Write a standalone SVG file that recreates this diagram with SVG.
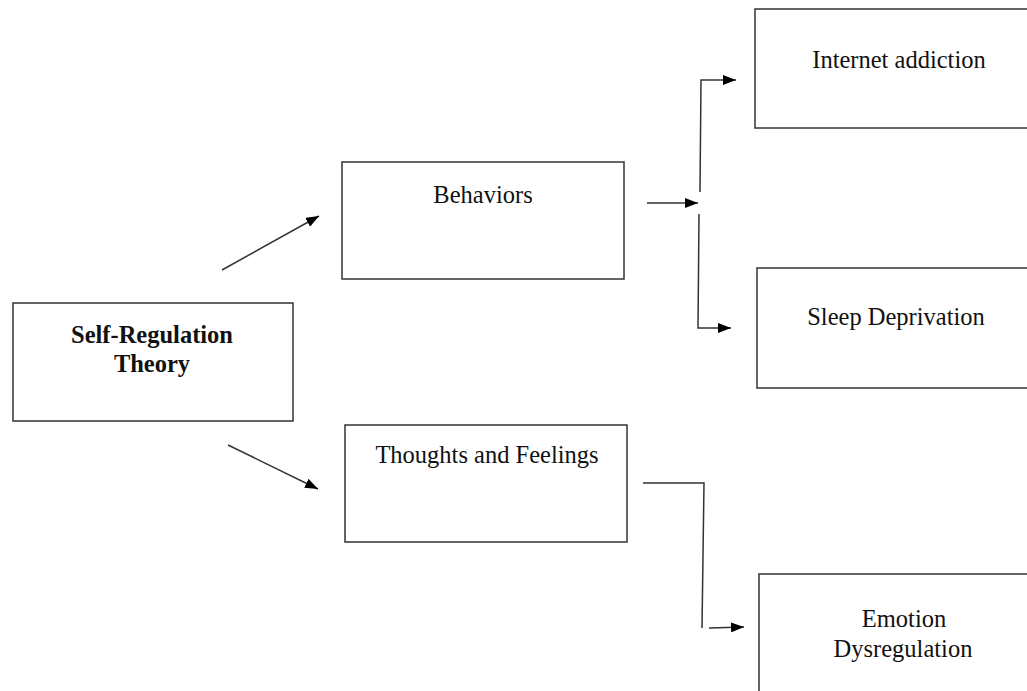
<svg xmlns="http://www.w3.org/2000/svg" width="1027" height="691" viewBox="0 0 1027 691">
<style>
.box{fill:#fff;stroke:#333;stroke-width:1.5}
.t{font-family:"Liberation Serif","Times New Roman",serif;font-size:24.5px;fill:#111;text-anchor:middle}
.b{font-weight:bold}
.c{fill:none;stroke:#333;stroke-width:1.5}
</style>
<defs>
<marker id="ah" viewBox="0 0 13 10" refX="13" refY="5" markerWidth="13" markerHeight="10" markerUnits="userSpaceOnUse" orient="auto">
<path d="M0,0 L13,5 L0,10 z" fill="#000"/>
</marker>
</defs>
<rect width="1027" height="691" fill="#fff"/>
<g id="n-self">
<rect class="box" x="13" y="303" width="280" height="118"/>
<text class="t b" x="152" y="343">Self-Regulation</text>
<text class="t b" x="152" y="372">Theory</text>
</g>
<g id="n-behaviors">
<rect class="box" x="342" y="162" width="282" height="117"/>
<text class="t" x="483" y="203">Behaviors</text>
</g>
<g id="n-thoughts">
<rect class="box" x="345" y="425" width="282" height="117"/>
<text class="t" x="487" y="463">Thoughts and Feelings</text>
</g>
<g id="n-internet">
<rect class="box" x="755" y="9" width="280" height="119"/>
<text class="t" x="899" y="68">Internet addiction</text>
</g>
<g id="n-sleep">
<rect class="box" x="757" y="268" width="280" height="120"/>
<text class="t" x="896" y="325">Sleep Deprivation</text>
</g>
<g id="n-emotion">
<rect class="box" x="759" y="574" width="280" height="130"/>
<text class="t" x="904" y="627">Emotion</text>
<text class="t" x="903" y="657">Dysregulation</text>
</g>
<g id="connectors">
<line class="c" x1="222" y1="270" x2="319" y2="216" marker-end="url(#ah)"/>
<line class="c" x1="228" y1="445" x2="318" y2="489" marker-end="url(#ah)"/>
<line class="c" x1="647" y1="203" x2="698" y2="203" marker-end="url(#ah)"/>
<polyline class="c" points="700,192 701,80 736,80" marker-end="url(#ah)"/>
<polyline class="c" points="699,214 698,328 731,328" marker-end="url(#ah)"/>
<polyline class="c" points="643,483 704,483 702,628"/>
<line class="c" x1="709" y1="628" x2="744" y2="627" marker-end="url(#ah)"/>
</g>
</svg>
